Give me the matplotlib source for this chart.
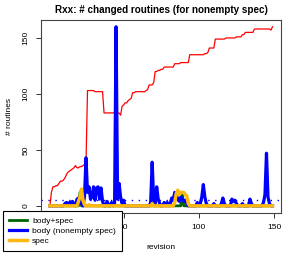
import numpy as np
import matplotlib
matplotlib.use("Agg")
import matplotlib.pyplot as plt

plt.rcParams['font.family'] = ['Liberation Sans', 'DejaVu Sans']

# number of changed routines per revision (1..149)
revision = list(range(1, 150))

all_changed = [
    0, 12, 17, 17, 18, 18, 20, 22, 22, 23,
    25, 28, 30, 31, 32, 33, 34, 36, 34, 34,
    35, 35, 36, 37, 38, 103, 103, 103, 103, 103,
    102, 102, 102, 102, 102, 102, 83, 83, 83, 83,
    83, 83, 83, 83, 83, 83, 83, 81, 89, 90,
    92, 92, 94, 95, 96, 101, 101, 102, 102, 102,
    102, 102, 102, 102, 103, 104, 108, 108, 108, 110,
    120, 120, 121, 121, 122, 122, 124, 124, 124, 124,
    124, 124, 124, 127, 127, 127, 127, 128, 128, 128,
    128, 128, 128, 135, 135, 135, 135, 135, 135, 135,
    135, 135, 135, 136, 136, 137, 141, 141, 141, 141,
    149, 149, 149, 149, 149, 149, 149, 150, 150, 150,
    150, 150, 150, 150, 151, 151, 151, 151, 153, 153,
    155, 155, 155, 155, 155, 155, 158, 158, 158, 158,
    158, 158, 158, 158, 158, 158, 158, 157, 160,
]

body_nonempty = [
    0, 0, 0, 0, 0, 0, 0, 0, 0, 0,
    2, 3, 1, 3, 2, 4, 1, 0, 6, 7,
    3, 2, 0, 8, 43, 12, 17, 6, 8, 17,
    5, 16, 17, 6, 16, 4, 0, 0, 4, 0,
    0, 3, 0, 2, 160, 6, 20, 8, 2, 5,
    0, 0, 0, 0, 0, 0, 0, 0, 0, 0,
    0, 0, 0, 0, 0, 0, 0, 3, 39, 5,
    2, 17, 6, 2, 0, 0, 3, 0, 3, 0,
    2, 7, 5, 12, 10, 6, 4, 8, 6, 4,
    5, 2, 0, 0, 0, 0, 0, 0, 3, 0,
    2, 8, 19, 8, 2, 0, 0, 0, 0, 2,
    0, 0, 0, 0, 2, 7, 2, 0, 0, 0,
    0, 6, 4, 5, 2, 0, 0, 0, 2, 0,
    0, 0, 0, 6, 2, 0, 0, 0, 0, 0,
    0, 0, 3, 10, 47, 8, 2, 0, 0,
]

body_spec = [0] * 149
body_spec[20] = 12
body_spec[88] = 12

spec = [
    0, 0, 0, 0, 0, 0, 0, 0, 0, 0,
    0, 0, 0, 0, 0, 0, 0, 0, 0, 4,
    8, 15, 5, 1, 0, 0, 1, 0, 0, 0,
    0, 0, 0, 0, 0, 0, 0, 0, 0, 0,
    0, 0, 0, 0, 0, 0, 0, 0, 0, 0,
    0, 0, 0, 0, 0, 0, 0, 0, 0, 0,
    0, 0, 0, 0, 0, 0, 0, 0, 2, 0,
    0, 0, 0, 0, 0, 0, 0, 0, 0, 0,
    0, 0, 0, 3, 11, 14, 10, 12, 12, 12,
    10, 9, 2, 0, 0, 0, 0, 0, 0, 0,
    0, 0, 0, 0, 0, 0, 0, 0, 0, 0,
    0, 0, 0, 0, 0, 0, 0, 0, 0, 0,
    0, 0, 0, 0, 0, 0, 0, 0, 0, 0,
    0, 0, 0, 0, 0, 0, 0, 0, 0, 0,
    0, 0, 0, 0, 0, 0, 0, 0, 0,
]

fig = plt.figure(figsize=(2.94, 2.54), dpi=100)
ax = fig.add_axes([41 / 294, 41 / 254, 240.4 / 294, 193.4 / 254])

ax.plot(revision, all_changed, color='#FF0000', lw=0.9, zorder=2)
ax.plot(revision, body_spec, color='#006400', lw=2.0, zorder=3, label='body+spec')
ax.plot(revision, body_nonempty, color='#0000FF', lw=2.3, zorder=3,
        label='body (nonempty spec)')
ax.plot(revision, spec, color='#FFB90F', lw=2.5, zorder=4, label='spec')
# mean line for body changes
ax.axhline(np.mean(body_nonempty), color='#0000FF', lw=1.0, ls=(0, (1, 4)), zorder=2)

ax.set_xlim(-4.92, 154.92)
ax.set_ylim(-6.4, 166.4)
ax.set_xticks([0, 50, 100, 150])
ax.set_xticklabels(['', '50', '100', '150'])  # "0" sits under the legend
ax.set_yticks([0, 50, 100, 150])
ax.tick_params(direction='out', length=3.6, width=0.7, labelsize=6,
               colors='#333333', labelcolor='black', pad=4.5)
plt.setp(ax.get_yticklabels(), rotation=90, va='center')
for s in ax.spines.values():
    s.set_linewidth(0.8)
    s.set_color('#444444')

ax.set_title('Rxx: # changed routines (for nonempty spec)', fontsize=7.1,
             fontweight='bold', pad=5)
ax.set_xlabel('revision', fontsize=6, labelpad=9)
ax.set_ylabel('# routines', fontsize=6, labelpad=7)

h, l = ax.get_legend_handles_labels()
leg = fig.legend(h, l, loc='lower left', bbox_to_anchor=(2.7 / 294, 3 / 254),
                 fontsize=6, frameon=True, fancybox=False, framealpha=1,
                 edgecolor='black', handlelength=2.2, handletextpad=0.6,
                 borderpad=0.75, labelspacing=0.25, borderaxespad=0)
leg.get_frame().set_linewidth(0.8)

fig.savefig('out.png', dpi=100)
